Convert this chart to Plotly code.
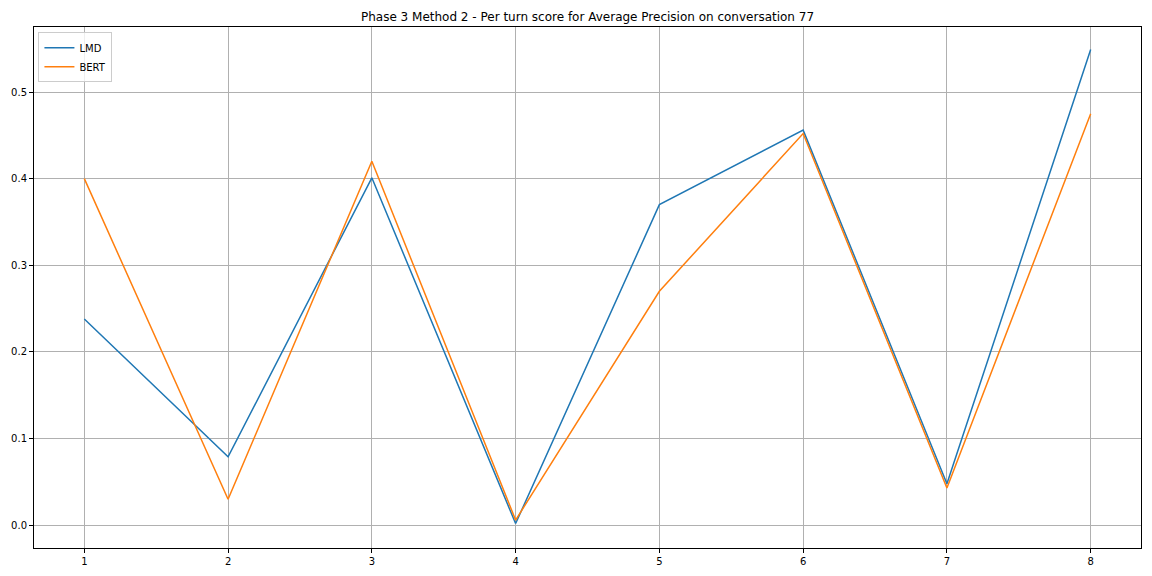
import plotly.graph_objects as go

turns = [1, 2, 3, 4, 5, 6, 7, 8]
lmd_scores = [0.238, 0.079, 0.401, 0.002, 0.370, 0.456, 0.048, 0.549]
bert_scores = [0.400, 0.030, 0.420, 0.006, 0.270, 0.452, 0.043, 0.475]

fig = go.Figure()
fig.add_trace(go.Scatter(
    x=turns, y=lmd_scores, mode="lines", name="LMD",
    line=dict(color="#1f77b4", width=1.5),
))
fig.add_trace(go.Scatter(
    x=turns, y=bert_scores, mode="lines", name="BERT",
    line=dict(color="#ff7f0e", width=1.5),
))

axis_style = dict(
    showline=True, linecolor="black", linewidth=1, mirror=True,
    showgrid=True, gridcolor="#b0b0b0", gridwidth=1,
    ticks="outside", ticklen=4, tickcolor="black",
    zeroline=False, tickfont=dict(size=10, color="black"),
    automargin=False,
)

fig.update_layout(
    width=1152, height=576,
    paper_bgcolor="white", plot_bgcolor="white",
    font=dict(family="DejaVu Sans", size=10, color="black"),
    title=dict(
        text="Phase 3 Method 2 - Per turn score for Average Precision on conversation 77",
        x=(34 + 1141) / 2 / 1152, xanchor="center", y=1 - 17 / 576, yanchor="middle",
        font=dict(size=12),
    ),
    margin=dict(l=34, r=11, t=27, b=28),
    xaxis=dict(range=[0.65, 8.35], tickvals=turns, **axis_style),
    yaxis=dict(range=[-0.0262, 0.575], dtick=0.1, tickformat=".1f", **axis_style),
    legend=dict(
        x=0.004, y=0.99, xanchor="left", yanchor="top",
        bgcolor="rgba(255,255,255,0.8)", bordercolor="#cccccc", borderwidth=1,
        font=dict(size=10), tracegroupgap=0, itemwidth=30,
    ),
    showlegend=True,
)

# drop the browser's default 8px body margin so the figure sits at the page corner
fig.write_html(
    "out.html",
    config={"displayModeBar": False},
    post_script="document.body.style.margin='0';",
)
